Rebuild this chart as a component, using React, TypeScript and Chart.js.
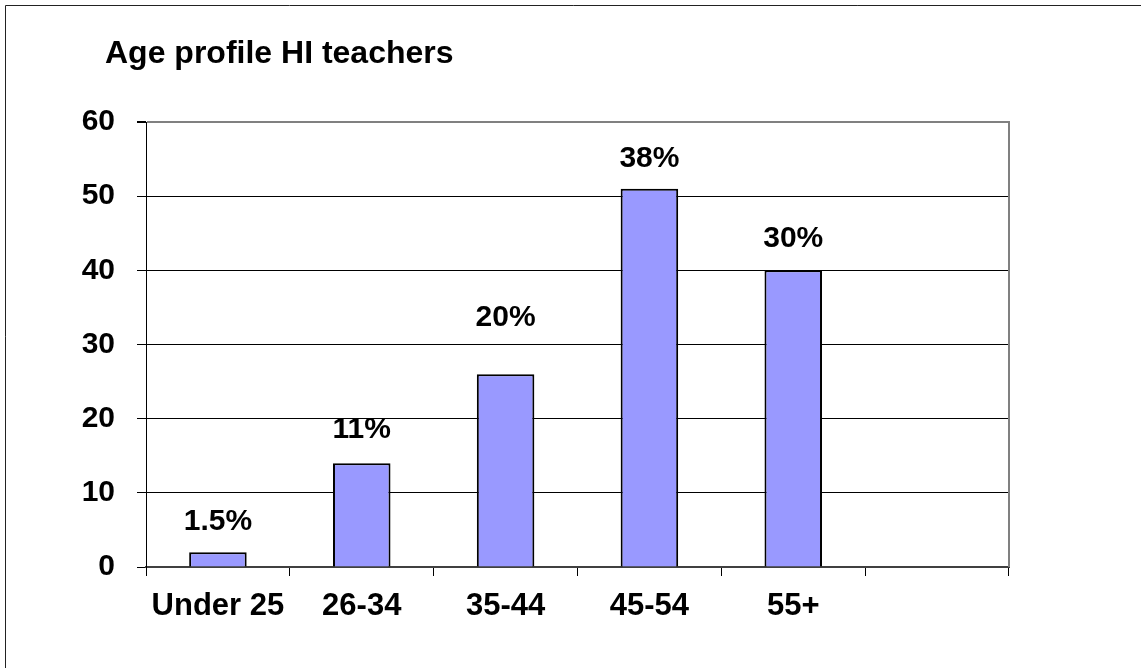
import React, { useEffect, useRef } from 'react';
import { Chart, registerables } from 'chart.js';

Chart.register(...registerables);

const categories = ['Under 25', '26-34', '35-44', '45-54', '55+', ''];
const teacherCounts: (number | null)[] = [2, 14, 26, 51, 40, null];
const shareLabels = ['1.5%', '11%', '20%', '38%', '30%', ''];
const yTicks = [0, 10, 20, 30, 40, 50, 60];
const chartTitle = 'Age profile HI teachers';

const FONT = '"Liberation Sans", Arial, Helvetica, sans-serif';
// pixel lift of each percentage label above its bar top (style, not data)
const labelLift = [30, 33, 56, 30, 32, 0];

const decor = {
  id: 'decor',
  beforeDraw(chart: any) {
    const ctx = chart.ctx;
    ctx.save();
    ctx.fillStyle = '#ffffff';
    ctx.fillRect(0, 0, chart.width, chart.height);
    ctx.strokeStyle = '#222222';
    ctx.lineWidth = 1;
    ctx.beginPath();
    ctx.moveTo(5.5, chart.height);
    ctx.lineTo(5.5, 5.5);
    ctx.lineTo(chart.width, 5.5);
    ctx.stroke();
    ctx.fillStyle = '#000000';
    ctx.font = `bold 32px ${FONT}`;
    ctx.textAlign = 'left';
    ctx.textBaseline = 'alphabetic';
    ctx.fillText(chartTitle, 105, 63);
    ctx.restore();
  },
  afterDatasetsDraw(chart: any) {
    const { ctx, chartArea } = chart;
    ctx.save();
    ctx.strokeStyle = '#808080';
    ctx.lineWidth = 2;
    ctx.beginPath();
    ctx.moveTo(chartArea.right, chartArea.top - 1);
    ctx.lineTo(chartArea.right, chartArea.bottom);
    ctx.stroke();
    const meta = chart.getDatasetMeta(0);
    ctx.font = `bold 30px ${FONT}`;
    ctx.textAlign = 'center';
    ctx.textBaseline = 'middle';
    ctx.fillStyle = '#000000';
    meta.data.forEach((bar: any, i: number) => {
      if (teacherCounts[i] == null) return;
      const { x, y } = bar.getProps(['x', 'y'], true);
      ctx.fillText(shareLabels[i], x, y - labelLift[i]);
    });
    ctx.restore();
  },
};

export default function App() {
  const ref = useRef<HTMLCanvasElement | null>(null);
  useEffect(() => {
    if (!ref.current) return;
    const chart = new Chart(ref.current, {
      type: 'bar',
      data: {
        labels: categories,
        datasets: [
          {
            data: teacherCounts,
            backgroundColor: '#9999FF',
            borderColor: '#000000',
            borderWidth: 2,
            barPercentage: 0.4,
            categoryPercentage: 1.0,
          },
        ],
      },
      options: {
        animation: false,
        responsive: false,
        maintainAspectRatio: false,
        layout: { padding: { left: 0, top: 122, right: 132, bottom: 0 } },
        plugins: {
          legend: { display: false },
          title: { display: false },
          tooltip: { enabled: false },
        },
        scales: {
          x: {
            grid: {
              offset: true,
              drawOnChartArea: false,
              drawTicks: true,
              tickLength: 9,
              tickColor: '#000000',
              color: '#000000',
            },
            border: { color: '#404040', width: 2 },
            ticks: {
              font: { family: FONT, size: 31, weight: 'bold' },
              color: '#000000',
              padding: 12,
              maxRotation: 0,
              autoSkip: false,
            },
            afterFit: (s: any) => {
              s.height = 101;
            },
          },
          y: {
            min: 0,
            max: 60,
            afterBuildTicks: (s: any) => {
              s.ticks = yTicks.map((v) => ({ value: v }));
            },
            ticks: { font: { family: FONT, size: 30, weight: 'bold' }, color: '#000000', padding: 22 },
            grid: {
              color: (c: any) => (c.tick && c.tick.value === 60 ? '#808080' : '#000000'),
              lineWidth: (c: any) => (c.tick && c.tick.value === 60 ? 2 : 1),
              tickLength: 9,
              tickColor: '#000000',
            },
            border: { color: '#000000', width: 1 },
            afterFit: (s: any) => {
              s.width = 146;
            },
          },
        },
      },
      plugins: [decor],
    });
    return () => chart.destroy();
  }, []);
  return (
    <div style={{ position: 'absolute', left: 0, top: 0, width: 1141, height: 668, overflow: 'hidden' }}>
      <canvas ref={ref} width={1141} height={668} style={{ display: 'block' }} />
    </div>
  );
}
